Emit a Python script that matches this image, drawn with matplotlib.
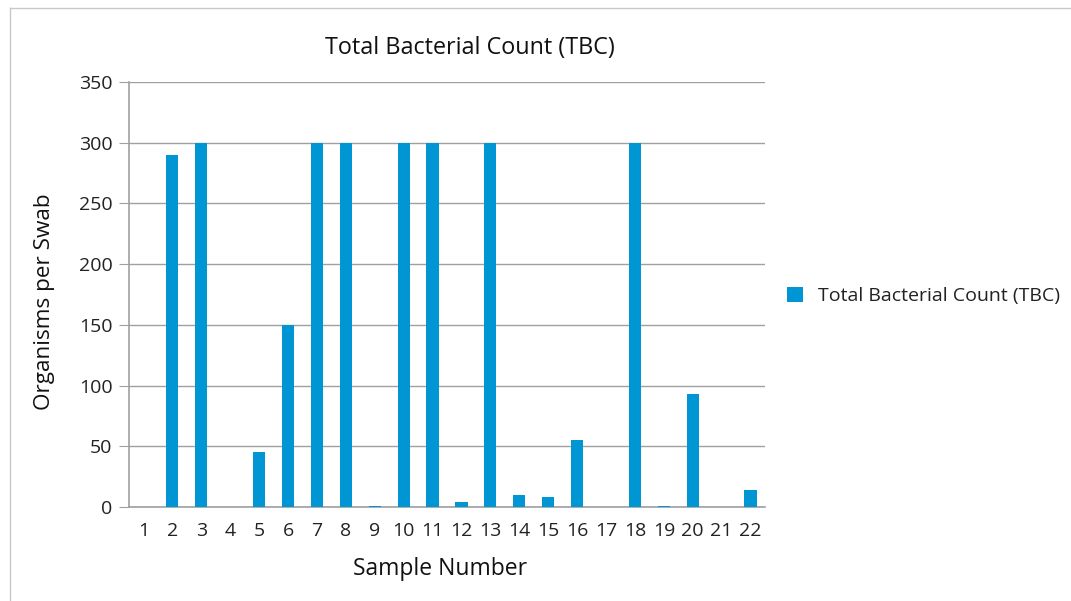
import matplotlib
matplotlib.use("Agg")
import matplotlib.pyplot as plt
from matplotlib.lines import Line2D

samples = [str(i) for i in range(1, 23)]
tbc = [0, 290, 300, 0, 45, 150, 300, 300, 1, 300, 300, 4, 300, 10, 8, 55, 0, 300, 1, 93, 0, 14]
yticks = [0, 50, 100, 150, 200, 250, 300, 350]

plt.rcParams['font.family'] = ['Open Sans', 'DejaVu Sans']

W, H = 1071, 601
fig = plt.figure(figsize=(W / 100, H / 100), dpi=100)
ax = fig.add_axes([129 / W, 1 - 507 / H, (765 - 129) / W, (507 - 82) / H])

x = list(range(len(samples)))
ax.bar(x, tbc, width=0.42, color='#0095D3', label='Total Bacterial Count (TBC)', zorder=3)

ax.set_xlim(-0.5, len(samples) - 0.5)
ax.set_ylim(0, 350)
ax.set_yticks(yticks)
ax.set_xticks(x)
ax.set_xticklabels(samples)
ax.grid(axis='y', color='#A0A0A0', linewidth=1.0, zorder=0)
for s in ['top', 'right']:
    ax.spines[s].set_visible(False)
for s in ['left', 'bottom']:
    ax.spines[s].set_color('#A0A0A0')
    ax.spines[s].set_linewidth(1.2)
ax.tick_params(axis='y', length=7, color='#A0A0A0', labelsize=14, labelcolor='#222222', pad=5)
ax.tick_params(axis='x', length=0, labelsize=14, labelcolor='#222222', pad=11)

ax.set_title('Total Bacterial Count (TBC)', fontsize=16.8, color='#111111', pad=20, x=0.536)
ax.set_xlabel('Sample Number', fontsize=16.5, color='#111111', labelpad=12)
ax.xaxis.label.set_x(0.489)
ax.set_ylabel('Organisms per Swab', fontsize=16.2, color='#111111', labelpad=17)
ax.yaxis.label.set_y(0.484)

leg = ax.legend(loc='center left', bbox_to_anchor=(1.007, 0.497), frameon=False,
                fontsize=14, handlelength=0.8, handleheight=0.8, handletextpad=0.8)
for t in leg.get_texts():
    t.set_color('#222222')

fig.add_artist(Line2D([10 / W, 10 / W], [0, 1 - 8 / H], transform=fig.transFigure, color='#C8C8C8', linewidth=1))
fig.add_artist(Line2D([10 / W, 1], [1 - 8 / H, 1 - 8 / H], transform=fig.transFigure, color='#C8C8C8', linewidth=1))

fig.savefig('out.png', dpi=100)
